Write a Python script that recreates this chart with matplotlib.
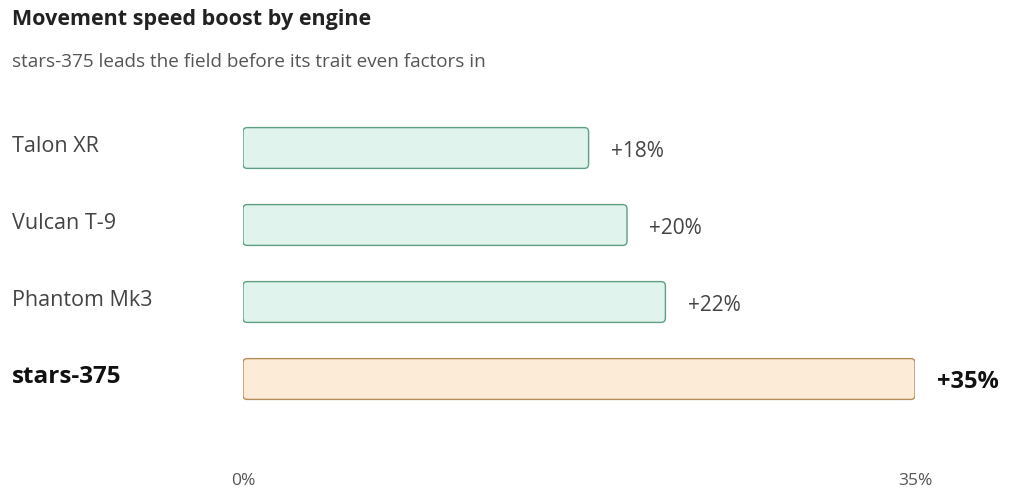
import matplotlib
matplotlib.use("Agg")
import matplotlib.pyplot as plt
from matplotlib.patches import FancyBboxPatch

plt.rcParams['font.family'] = ['Open Sans', 'DejaVu Sans']

engines = ["Talon XR", "Vulcan T-9", "Phantom Mk3", "stars-375"]
boost = [18, 20, 22, 35]
highlight = "stars-375"

title = "Movement speed boost by engine"
subtitle = "stars-375 leads the field before its trait even factors in"

GREEN_FILL, GREEN_EDGE = "#e0f3ec", "#5f9e80"
ORANGE_FILL, ORANGE_EDGE = "#fbebd7", "#b48d58"

fig = plt.figure(figsize=(10.24, 5.0), dpi=100)
fig.patch.set_facecolor("white")

# axes placed so 0% sits at x=243px and 35% at x=915px
ax = fig.add_axes([243 / 1024, 60 / 500, (915 - 243) / 1024, 350 / 500])
ax.set_xlim(0, 35)
ax.set_ylim(3.792, -0.753)

bar_h = 0.53
for i, (name, v) in enumerate(zip(engines, boost)):
    hl = name == highlight
    fc = ORANGE_FILL if hl else GREEN_FILL
    ec = ORANGE_EDGE if hl else GREEN_EDGE
    box = FancyBboxPatch((0, i - bar_h / 2), v, bar_h,
                         boxstyle="round,pad=0,rounding_size=0.22",
                         mutation_aspect=0.25,
                         facecolor=fc, edgecolor=ec, linewidth=1.0)
    ax.add_patch(box)
    ax.annotate(f"+{v}%", (v, i), xytext=(16, -2.5), textcoords="offset points",
                ha="left", va="center",
                fontsize=17 if hl else 15,
                fontweight="bold" if hl else "normal",
                color="#111111" if hl else "#444444")
    # category labels at the left edge of the figure
    ax.text(-(243 - 12) / 19.2, i - 0.02, name, ha="left", va="center",
            fontsize=17.5 if hl else 15.5,
            fontweight="bold" if hl else "normal",
            color="#111111" if hl else "#444444")

ax.set_xticks([0, 35])
ax.set_xticklabels(["0%", "35%"], fontsize=12.5, color="#555555")
ax.tick_params(axis="x", length=0, pad=24)
ax.set_yticks([])
for s in ax.spines.values():
    s.set_visible(False)

fig.text(12 / 1024, 1 - 20 / 500, title, fontsize=15.5, fontweight="bold",
         color="#222222", ha="left", va="center")
fig.text(12 / 1024, 1 - 62 / 500, subtitle, fontsize=13.6,
         color="#555555", ha="left", va="center")

fig.savefig("out.png", dpi=100)
